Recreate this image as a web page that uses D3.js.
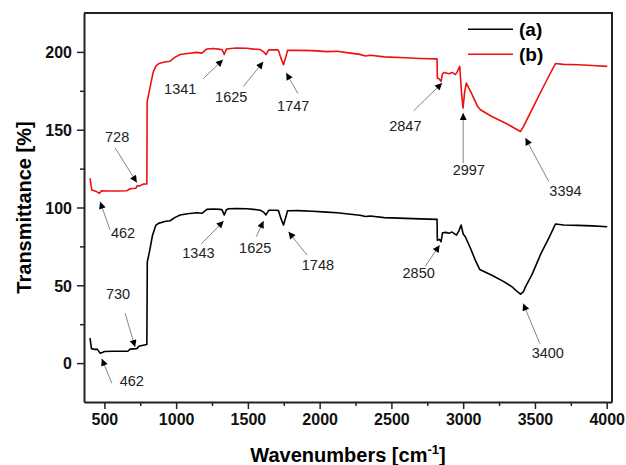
<!DOCTYPE html>
<head>
    <meta charset="UTF-8">
    <script src="https://d3js.org/d3.v7.min.js"></script>
    <style>
        body { margin: 0; background: white; }
        svg { display: block; font-family: "Liberation Sans", Arial, sans-serif; }
        .tick text { font-weight: bold; font-size: 16px; fill: #111; }
        .tick line, .domain { stroke: #222; }
    </style>
</head>
<body>
    <div id="chart"></div>
    <script>
        // sample (a) - black
        const waveA = [400, 410, 435, 450, 470, 490, 500, 560, 663, 680, 726, 740, 770, 796, 799, 815, 835, 858, 877, 920, 958, 990, 1028, 1080, 1144, 1180, 1214, 1260, 1307, 1320, 1335, 1350, 1365, 1420, 1493, 1540, 1586, 1610, 1626, 1645, 1700, 1713, 1730, 1748, 1765, 1776, 1850, 1950, 2050, 2121, 2200, 2280, 2320, 2353, 2450, 2600, 2700, 2818, 2820, 2835, 2846, 2856, 2880, 2900, 2923, 2953, 2970, 2986, 3000, 3015, 3050, 3085, 3115, 3200, 3280, 3341, 3370, 3399, 3420, 3434, 3480, 3540, 3600, 3643, 3700, 3800, 3900, 4004]
        const transA = [16.1, 9.3, 8.8, 9, 6.4, 7, 7.5, 7.6, 7.6, 9, 9.3, 10.8, 11.5, 12, 65, 72, 82, 88.5, 89.8, 91, 91.5, 93.5, 95.2, 96, 96.6, 96.3, 98.8, 99, 98.8, 98.5, 95.2, 98.6, 99.2, 99.3, 99.2, 98.8, 98.2, 97, 95.2, 98.2, 98.2, 98, 93, 88.7, 94, 97.9, 98, 97.6, 97, 96.6, 95.8, 95, 94.2, 94.5, 93.5, 93, 92.7, 92.4, 79, 79.5, 78, 83.8, 84, 83.5, 84.2, 82.3, 85, 88.7, 83, 81.2, 74, 66, 60.2, 56.5, 52.5, 49, 46.5, 44.3, 46, 49, 57, 70, 81, 89.4, 88.8, 88.5, 88.2, 87.6]

        // sample (b) - red
        const waveB = [400, 412, 440, 465, 480, 520, 600, 656, 680, 720, 728, 745, 770, 796, 798, 820, 840, 860, 880, 920, 958, 990, 1028, 1080, 1144, 1180, 1214, 1260, 1307, 1320, 1335, 1350, 1365, 1420, 1493, 1540, 1586, 1610, 1626, 1645, 1700, 1713, 1730, 1748, 1765, 1776, 1850, 1950, 2050, 2121, 2200, 2280, 2320, 2353, 2450, 2600, 2700, 2818, 2820, 2835, 2846, 2856, 2870, 2900, 2923, 2946, 2960, 2976, 2990, 2999, 3010, 3022, 3060, 3100, 3120, 3200, 3300, 3399, 3420, 3480, 3550, 3600, 3643, 3700, 3800, 3900, 4004]
        const transB = [118.8, 111.3, 110.5, 109.1, 110.8, 110.6, 110.6, 110.8, 112, 112.4, 114, 113.8, 115, 115.1, 168, 178, 187, 191, 192.5, 193.5, 194, 196.5, 198.3, 199, 199.7, 199.2, 201.9, 202.2, 201.6, 201.5, 198.3, 201.8, 202, 202.5, 202.3, 201.8, 201.5, 200, 198.3, 201.3, 201.3, 201, 196, 191.8, 197, 201, 201, 200.8, 200.2, 200.4, 199.4, 198.4, 197.4, 197.8, 196.8, 196.2, 195.8, 195.5, 183.2, 182.5, 181, 186, 186.8, 186, 186.8, 185.4, 187.5, 190.7, 172, 163.9, 174, 180, 173, 165, 162.8, 158.5, 154, 148.8, 152, 163, 176, 185, 192.5, 192, 191.7, 191.3, 190.7]

        const seriesNames = ["(a)", "(b)"]
        const seriesColors = ["#000000", "#ee1111"]

        const xTicks = [500, 1000, 1500, 2000, 2500, 3000, 3500, 4000]
        const yTicks = [0, 50, 100, 150, 200]

        // peak labels: tip in data units, tail / text offsets in px
        const peakLabels = ["728", "462", "1341", "1625", "1747", "2847", "2997", "3394",
                            "730", "462", "1343", "1625", "1748", "2850", "3400"]
        const peakWave = [726, 470, 1326, 1607, 1767, 2853, 3000, 3434,
                          714, 482, 1331, 1609, 1783, 2836, 3418]
        const peakTrans = [116, 103.7, 195, 193.6, 186.5, 180, 160.7, 144.6,
                           10.3, 2.8, 91.3, 91.3, 84.4, 75.8, 38.3]

        let width = 626, height = 465
        let margin = { top: 13, right: 14, bottom: 63, left: 84 }

        let svg = d3.select("#chart").append("svg")
            .attr("width", width)
            .attr("height", height)

        let x = d3.scaleLinear().domain([358, 4037]).range([margin.left, width - margin.right])
        let y = d3.scaleLinear().domain([-25, 225]).range([height - margin.bottom, margin.top])

        let xMinor = d3.range(250, 4250, 250).filter(v => v > 358 && v < 4037 && v % 500 != 0)
        let yMinor = d3.range(-25, 250, 25).filter(v => v > -25 && v < 225 && v % 50 != 0)

        // minor ticks
        svg.append("g")
            .attr("transform", `translate(0,${height - margin.bottom})`)
            .call(d3.axisBottom(x).tickValues(xMinor).tickSize(4).tickFormat(""))
            .call(g => g.select(".domain").remove())
            .selectAll("line").attr("stroke-width", 1.5)
        svg.append("g")
            .attr("transform", `translate(${margin.left},0)`)
            .call(d3.axisLeft(y).tickValues(yMinor).tickSize(4).tickFormat(""))
            .call(g => g.select(".domain").remove())
            .selectAll("line").attr("stroke-width", 1.5)

        // major axes
        let xAxis = svg.append("g")
            .attr("transform", `translate(0,${height - margin.bottom})`)
            .call(d3.axisBottom(x).tickValues(xTicks).tickFormat(d3.format("d"))
                .tickSize(7).tickSizeOuter(0).tickPadding(5))
        xAxis.selectAll("line").attr("stroke-width", 1.5)
        xAxis.select(".domain").attr("stroke-width", 2)

        let yAxis = svg.append("g")
            .attr("transform", `translate(${margin.left},0)`)
            .call(d3.axisLeft(y).tickValues(yTicks).tickFormat(d3.format("d"))
                .tickSize(7).tickSizeOuter(0).tickPadding(5))
        yAxis.selectAll("line").attr("stroke-width", 1.5)
        yAxis.select(".domain").attr("stroke-width", 2)
        yAxis.selectAll("text").attr("dy", "0.36em")

        // top & right frame
        svg.append("path")
            .attr("d", `M${margin.left},${margin.top}H${width - margin.right}V${height - margin.bottom}`)
            .attr("fill", "none")
            .attr("stroke", "#222")
            .attr("stroke-width", 2)

        // curves
        let line = d3.line().x(d => x(d[0])).y(d => y(d[1]))
        let curves = [d3.zip(waveA, transA), d3.zip(waveB, transB)]
        curves.forEach((pts, i) => {
            svg.append("path")
                .datum(pts)
                .attr("d", line)
                .attr("fill", "none")
                .attr("stroke", seriesColors[i])
                .attr("stroke-width", 1.6)
                .attr("stroke-linejoin", "round")
        })

        // arrowhead
        svg.append("defs").append("marker")
            .attr("id", "head")
            .attr("viewBox", "0 0 10 10")
            .attr("refX", 10).attr("refY", 5)
            .attr("markerUnits", "userSpaceOnUse")
            .attr("markerWidth", 9).attr("markerHeight", 7)
            .attr("orient", "auto")
            .append("path")
            .attr("d", "M0,0L10,5L0,10Z")
            .attr("fill", "#000")

        // label placement (px offsets from tip): tail dx, dy, text dx, dy
        const tailDx = [-21.7, 10, -19.7, -20, 11.7, -28.4, 0, 23.3, -10, 10, -22.5, -7.3, 18.4, -14.3, 16.6]
        const tailDy = [-34.7, 28.3, 19, 24.7, 20.7, 27.7, 50, 43.4, -34, 24.4, 23, 15.7, 23.3, 21, 40]
        const textDx = [-19.7, 23, -42.7, -32, 7, -36.7, 5.6, 40, -17, 30, -25.2, -8.3, 29.4, -21, 24.6]
        const textDy = [-45.7, 31.3, 29.3, 35.4, 33.4, 42.7, 56.7, 52.4, -52.7, 22.4, 32.3, 27.3, 33.3, 27.7, 49]

        peakLabels.forEach((lab, i) => {
            let tx = x(peakWave[i]), ty = y(peakTrans[i])
            svg.append("line")
                .attr("x1", tx + tailDx[i]).attr("y1", ty + tailDy[i])
                .attr("x2", tx).attr("y2", ty)
                .attr("stroke", "#666")
                .attr("stroke-width", 0.8)
                .attr("marker-end", "url(#head)")
            svg.append("text")
                .attr("x", tx + textDx[i])
                .attr("y", ty + textDy[i])
                .attr("dy", "0.35em")
                .attr("text-anchor", "middle")
                .style("font-size", "14.5px")
                .style("fill", "#222")
                .text(lab)
        })

        // legend
        seriesNames.forEach((name, i) => {
            let ly = 29.3 + i * 25
            svg.append("line")
                .attr("x1", 468).attr("x2", 513)
                .attr("y1", ly).attr("y2", ly)
                .attr("stroke", seriesColors[i])
                .attr("stroke-width", 1.6)
            svg.append("text")
                .attr("x", 519).attr("y", ly)
                .attr("dy", "0.33em")
                .style("font-size", "19px")
                .style("font-weight", "bold")
                .text(name)
        })

        // axis titles
        let xt = svg.append("text")
            .attr("x", (margin.left + width - margin.right) / 2)
            .attr("y", 462)
            .attr("text-anchor", "middle")
            .style("font-size", "20px")
            .style("font-weight", "bold")
        xt.append("tspan").text("Wavenumbers [cm")
        xt.append("tspan").attr("dy", -8).style("font-size", "13px").text("-1")
        xt.append("tspan").attr("dy", 8).text("]")

        svg.append("text")
            .attr("transform", `translate(31,${(margin.top + height - margin.bottom) / 2}) rotate(-90)`)
            .attr("text-anchor", "middle")
            .style("font-size", "20px")
            .style("font-weight", "bold")
            .text("Transmittance [%]")
    </script>
</body>
</html>
